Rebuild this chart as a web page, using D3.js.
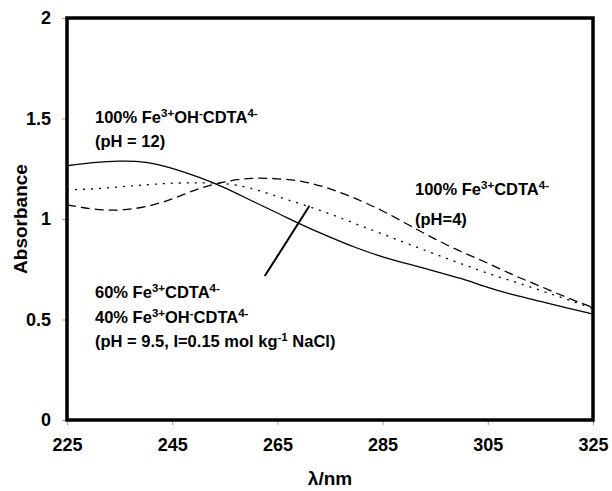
<!DOCTYPE html>
<html><head><meta charset="utf-8">
<script src="https://cdn.jsdelivr.net/npm/d3@7"></script>
<style>body{margin:0;background:#fff}svg{display:block}text{font-family:"Liberation Sans",Arial,sans-serif;font-weight:bold;fill:#000}</style>
</head><body><svg id="c" width="612" height="491"></svg>
<script>
const wavelengths = [225,230,235,240,245,250,255,260,265,270,275,280,285,290,295,300,305,310,315,320,325];
const solidPH12 = [1.265,1.28,1.288,1.282,1.252,1.208,1.155,1.092,1.03,0.967,0.91,0.857,0.812,0.775,0.74,0.703,0.66,0.622,0.59,0.558,0.527];
const dottedMix = [1.145,1.15,1.16,1.17,1.178,1.18,1.176,1.152,1.112,1.07,1.025,0.975,0.925,0.875,0.825,0.777,0.73,0.688,0.645,0.60,0.555];
const dashedPH4 = [1.07,1.05,1.045,1.062,1.10,1.15,1.185,1.202,1.2,1.185,1.15,1.10,1.04,0.97,0.9,0.837,0.78,0.72,0.665,0.61,0.56];
const xTicks = [225,245,265,285,305,325];
const yTicks = [0,0.5,1,1.5,2];
const pointer = [[262.6,0.716],[271.1,1.066]];

const svg = d3.select("#c");
const L=67,R=593,T=18,B=420;
const x = d3.scaleLinear().domain([225,325]).range([L,R]);
const y = d3.scaleLinear().domain([0,2]).range([B,T]);

const xa = svg.append("g").attr("transform",`translate(0,${B})`)
  .call(d3.axisBottom(x).tickValues(xTicks).tickSize(5).tickPadding(13).tickFormat(d3.format("d")));
const ya = svg.append("g").attr("transform",`translate(${L},0)`)
  .call(d3.axisLeft(y).tickValues(yTicks).tickSize(5).tickPadding(11).tickFormat(d=>String(d)));
[xa,ya].forEach(a=>{a.select(".domain").remove();a.selectAll("line").attr("stroke","#999");
  a.selectAll("text").style("font-size","18px").style("font-family","'Liberation Sans',Arial,sans-serif").style("font-weight","bold").attr("fill","#000");});

const line = d3.line().x((d,i)=>x(wavelengths[i])).y(d=>y(d)).curve(d3.curveNatural);
svg.append("path").attr("d",line(solidPH12)).attr("fill","none").attr("stroke","#000").attr("stroke-width",1.3);
svg.append("path").attr("d",line(dottedMix)).attr("fill","none").attr("stroke","#000").attr("stroke-width",1.3).attr("stroke-dasharray","2,6");
svg.append("path").attr("d",line(dashedPH4)).attr("fill","none").attr("stroke","#000").attr("stroke-width",1.3).attr("stroke-dasharray","9,5");
svg.append("line").attr("x1",x(pointer[0][0])).attr("y1",y(pointer[0][1])).attr("x2",x(pointer[1][0])).attr("y2",y(pointer[1][1]))
  .attr("stroke","#000").attr("stroke-width",2);

svg.append("rect").attr("x",L).attr("y",T).attr("width",R-L).attr("height",B-T).attr("fill","none").attr("stroke","#000").attr("stroke-width",3.5);

svg.append("text").attr("x",(L+R)/2).attr("y",485).attr("text-anchor","middle").style("font-size","19px").text("λ/nm");
svg.append("text").attr("transform",`translate(27,${(T+B)/2}) rotate(-90)`).attr("text-anchor","middle").style("font-size","19px").text("Absorbance");

function rich(xp,yp,parts){
  const t=svg.append("text").attr("x",xp).attr("y",yp).style("font-size","16.5px");
  let raised=false;
  parts.forEach(p=>{
    if(typeof p==="string"){
      t.append("tspan").attr("dy",raised?6:0).text(p); raised=false;
    } else {
      t.append("tspan").attr("dy",raised?0:-6).style("font-size","11.5px").text(p.sup); raised=true;
    }
  });
  return t;
}
const sup=s=>({sup:s});
rich(95,123,["100% Fe",sup("3+"),"OH",sup("-"),"CDTA",sup("4-")]);
rich(95,147,["(pH = 12)"]);
rich(415,195,["100% Fe",sup("3+"),"CDTA",sup("4-")]);
rich(415,225,["(pH=4)"]);
rich(95,298,["60% Fe",sup("3+"),"CDTA",sup("4-")]);
rich(95,323,["40% Fe",sup("3+"),"OH",sup("-"),"CDTA",sup("4-")]);
rich(95,347,["(pH = 9.5, I=0.15 mol kg",sup("-1")," NaCl)"]);
</script></body></html>
